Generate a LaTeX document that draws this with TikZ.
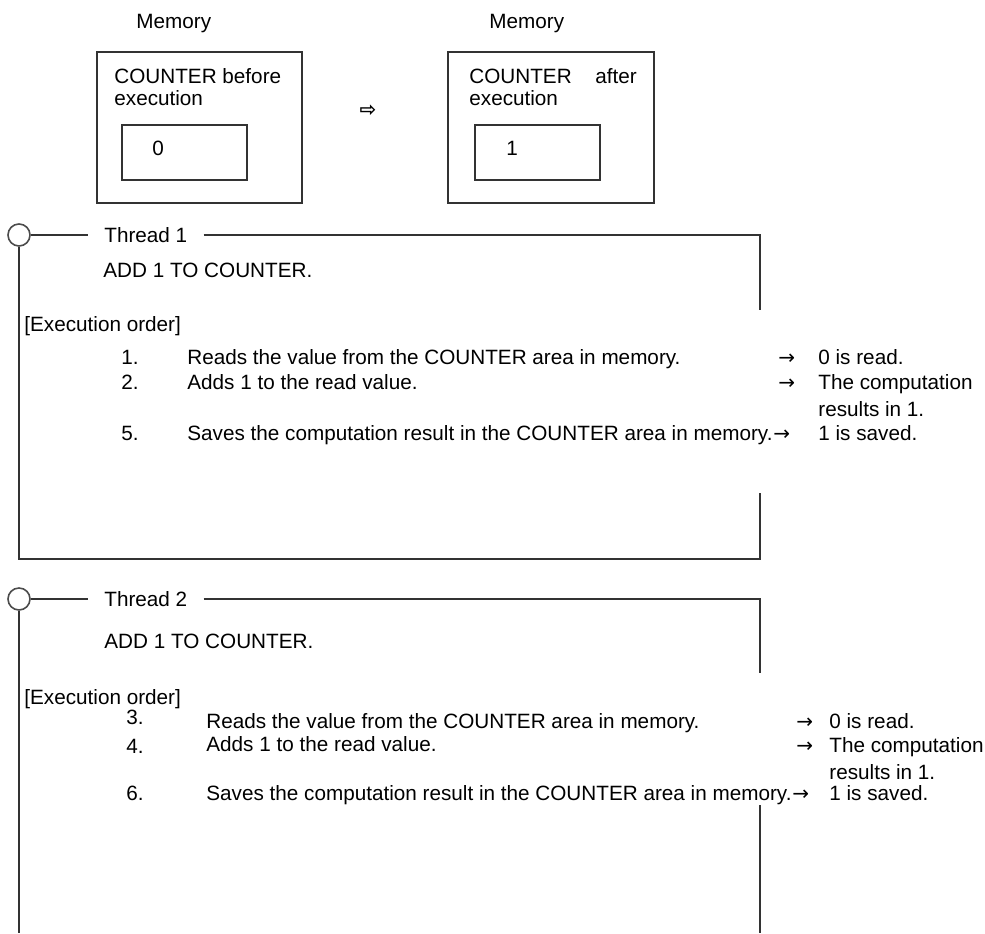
\documentclass[tikz,border=0pt]{standalone}
\usepackage{fontspec}
\setmainfont{Liberation Sans}
\newfontfamily\symfont{DejaVu Sans}

\begin{document}
\begin{tikzpicture}[x=0.5pt,y=-0.5pt,
    frame/.style={line width=1pt,black!80},
    txt/.style={anchor=base west,inner sep=0pt,font=\fontsize{10.35}{12}\selectfont},
    arr/.style={txt,font=\symfont\fontsize{10}{12}\selectfont},
    knob/.style={circle,draw=black!70,line width=0.8pt,minimum size=11pt,inner sep=0pt},
    thrlbl/.style={anchor=west,inner ysep=0pt,inner xsep=8pt,font=\fontsize{10.35}{12}\selectfont}]
  \useasboundingbox (0,0) rectangle (985,933);

  \node[txt] (mem1) at (136,28) {Memory};
  \node[txt] (mem2) at (489,28) {Memory};
  \draw[frame] (97,52) rectangle (302,203);
  \draw[frame] (448,52) rectangle (654,203);
  \node[txt] (bef1) at (114,83) {COUNTER before};
  \node[txt] (bef2) at (114,105) {execution};
  \draw[frame] (122,125) rectangle (247,180);
  \node[txt] (val0) at (152,155) {0};
  \node[inner sep=0pt,font=\symfont\bfseries\fontsize{10}{10}\selectfont] (next) at (368,111) {⇨};
  \node[txt] (aft1) at (469,83) {COUNTER};
  \node[txt] (aft2) at (595,83) {after};
  \node[txt] (aft3) at (469,105) {execution};
  \draw[frame] (475,125) rectangle (600,180);
  \node[txt] (val1) at (506,155) {1};

  \node[knob] (t1c) at (19,235) {};
  \node[thrlbl] (t1lbl) at (88,235) {Thread 1};
  \coordinate (t1ne) at (760,235);
  \coordinate (t1cut) at (760,310);
  \coordinate (t1sw) at (19,559);
  \coordinate (t1se) at (760,559);
  \coordinate (t1gap) at (760,493);
  \draw[frame] (t1c) -- (t1lbl);
  \draw[frame] (t1lbl) -- (t1ne) -- (t1cut);
  \draw[frame] (t1c) -- (t1sw) -- (t1se) -- (t1gap);
  \node[txt] (t1add) at (103,277) {ADD 1 TO COUNTER.};
  \node[txt] (t1ord) at (24,331) {[Execution order]};
  \node[txt] (t1n1) at (121,364) {1.};
  \node[txt] (t1s1) at (187,364) {Reads the value from the COUNTER area in memory.};
  \node[arr] (t1a1) at (778,364) {→};
  \node[txt] (t1r1) at (818,364) {0 is read.};
  \node[txt] (t1n2) at (121,389) {2.};
  \node[txt] (t1s2) at (187,389) {Adds 1 to the read value.};
  \node[arr] (t1a2) at (778,389) {→};
  \node[txt] (t1r2) at (818,389) {The computation};
  \node[txt] (t1r2b) at (818,416) {results in 1.};
  \node[txt] (t1n3) at (121,440) {5.};
  \node[txt] (t1s3) at (187,440) {Saves the computation result in the COUNTER area in memory.};
  \node[arr,anchor=base west] (t1a3) at (t1s3.base east) {→};
  \node[txt] (t1r3) at (818,440) {1 is saved.};

  \node[knob] (t2c) at (19,599) {};
  \node[thrlbl] (t2lbl) at (88,599) {Thread 2};
  \coordinate (t2ne) at (760,599);
  \coordinate (t2cut) at (760,673);
  \coordinate (t2sw) at (19,933);
  \coordinate (t2gap) at (760,805);
  \coordinate (t2se) at (760,933);
  \draw[frame] (t2c) -- (t2lbl);
  \draw[frame] (t2lbl) -- (t2ne) -- (t2cut);
  \draw[frame] (t2c) -- (t2sw);
  \draw[frame] (t2gap) -- (t2se);
  \node[txt] (t2add) at (104,648) {ADD 1 TO COUNTER.};
  \node[txt] (t2ord) at (24,704) {[Execution order]};
  \node[txt] (t2n1) at (126,724) {3.};
  \node[txt] (t2s1) at (206,728) {Reads the value from the COUNTER area in memory.};
  \node[arr] (t2a1) at (796,728) {→};
  \node[txt] (t2r1) at (829,728) {0 is read.};
  \node[txt] (t2n2) at (126,753) {4.};
  \node[txt] (t2s2) at (206,751) {Adds 1 to the read value.};
  \node[arr] (t2a2) at (796,752) {→};
  \node[txt] (t2r2) at (829,752) {The computation};
  \node[txt] (t2r2b) at (829,779) {results in 1.};
  \node[txt] (t2n3) at (126,800) {6.};
  \node[txt] (t2s3) at (206,800) {Saves the computation result in the COUNTER area in memory.};
  \node[arr,anchor=base west] (t2a3) at (t2s3.base east) {→};
  \node[txt] (t2r3) at (829,800) {1 is saved.};
\end{tikzpicture}
\end{document}
